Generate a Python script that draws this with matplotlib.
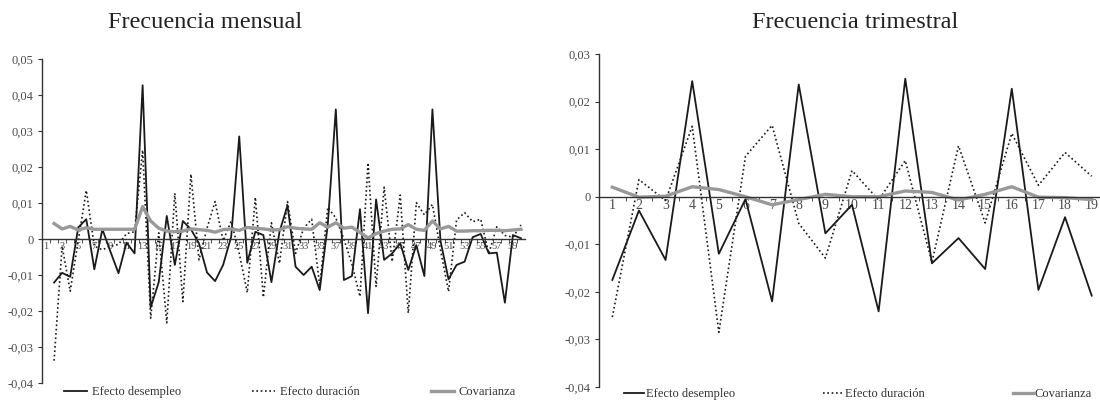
import numpy as np
import matplotlib.pyplot as plt

# Frecuencia mensual: 60 meses, las series empiezan en el mes 2
meses = list(range(1, 61))
desempleo_m = [np.nan,
    -0.0121, -0.0094, -0.0105, 0.0032, 0.0055, -0.0084, 0.0027, -0.0035, -0.0095, -0.0010,
    -0.0040, 0.0427, -0.0190, -0.0120, 0.0064, -0.0072, 0.0050, 0.0027, -0.0012, -0.0093,
    -0.0117, -0.0072, 0.0006, 0.0285, -0.0066, 0.0020, 0.0011, -0.0120, 0.0020, 0.0093,
    -0.0077, -0.0100, -0.0077, -0.0142, 0.0040, 0.0360, -0.0114, -0.0103, 0.0083, -0.0206,
    0.0110, -0.0058, -0.0040, -0.0012, -0.0086, -0.0017, -0.0103, 0.0360, -0.0005, -0.0112,
    -0.0072, -0.0063, 0.0005, 0.0014, -0.0040, -0.0038, -0.0177, 0.0011, 0.0002]
duracion_m = [np.nan,
    -0.0338, -0.0020, -0.0145, -0.0005, 0.0135, -0.0020, -0.0030, -0.0020, -0.0015, 0.0015,
    0.0020, 0.0247, -0.0220, 0.0017, -0.0233, 0.0127, -0.0174, 0.0180, -0.0058, 0.0030,
    0.0104, -0.0005, 0.0050, -0.0040, -0.0149, 0.0116, -0.0162, 0.0045, -0.0068, 0.0104,
    -0.0040, 0.0030, 0.0055, -0.0130, 0.0088, 0.0058, 0.0000, -0.0070, -0.0160, 0.0212,
    -0.0132, 0.0144, -0.0063, 0.0122, -0.0206, 0.0101, 0.0067, 0.0096, -0.0030, -0.0146,
    0.0053, 0.0073, 0.0048, 0.0055, -0.0040, 0.0034, 0.0010, 0.0005, 0.0039]
covarianza_m = [np.nan,
    0.0043, 0.0028, 0.0035, 0.0025, 0.0031, 0.0027, 0.0027, 0.0027, 0.0027, 0.0027,
    0.0027, 0.0090, 0.0050, 0.0030, 0.0022, 0.0020, 0.0022, 0.0028, 0.0026, 0.0024,
    0.0019, 0.0026, 0.0028, 0.0024, 0.0032, 0.0030, 0.0028, 0.0025, 0.0026, 0.0034,
    0.0030, 0.0028, 0.0027, 0.0045, 0.0033, 0.0045, 0.0030, 0.0033, 0.0018, 0.0003,
    0.0015, 0.0022, 0.0027, 0.0028, 0.0040, 0.0027, 0.0024, 0.0050, 0.0028, 0.0035,
    0.0022, 0.0022, 0.0023, 0.0023, 0.0024, 0.0024, 0.0023, 0.0025, 0.0027]

# Frecuencia trimestral: 19 trimestres
trimestres = list(range(1, 20))
desempleo_t = [-0.0175, -0.0029, -0.0133, 0.0243, -0.0120, -0.0005, -0.0220, 0.0236, -0.0077, -0.0017,
               -0.0241, 0.0248, -0.0140, -0.0087, -0.0152, 0.0227, -0.0196, -0.0043, -0.0208]
duracion_t = [-0.0253, 0.0036, -0.0008, 0.0148, -0.0285, 0.0085, 0.0150, -0.0056, -0.0129, 0.0055,
              -0.0007, 0.0076, -0.0138, 0.0107, -0.0055, 0.0133, 0.0024, 0.0093, 0.0043]
covarianza_t = [0.0020, -0.0001, 0.0001, 0.0021, 0.0015, 0.0000, -0.0017, -0.0006, 0.0005, 0.0000,
                0.0000, 0.0012, 0.0009, -0.0007, 0.0005, 0.0021, -0.0001, -0.0002, -0.0006]

etiquetas = ['Efecto desempleo', 'Efecto duración', 'Covarianza']
titulos = ['Frecuencia mensual', 'Frecuencia trimestral']

plt.rcParams['font.family'] = ['Liberation Serif', 'DejaVu Serif']
txt = '#4a4a4a'


def panel(ax, x, series, yticks, xlabsize, step):
    d, u, c = series
    l1, = ax.plot(x, d, color='#1a1a1a', lw=1.3)
    l2, = ax.plot(x, u, color='#1a1a1a', lw=1.2, ls=(0, (1, 1.6)))
    l3, = ax.plot(x, c, color='#999999', lw=2.4)
    ax.set_xlim(0.5, len(x) + 0.5)
    ax.set_ylim(yticks[0], yticks[-1])
    ax.spines['bottom'].set_position(('data', 0))
    ax.spines['top'].set_visible(False)
    ax.spines['right'].set_visible(False)
    for s in ('left', 'bottom'):
        ax.spines[s].set_color('#333333')
        ax.spines[s].set_linewidth(1.0)
    ax.set_yticks(yticks)
    ax.set_yticklabels(['0' if abs(v) < 1e-9 else f'{v:.2f}'.replace('.', ',') for v in yticks],
                       fontsize=9, color=txt)
    ax.set_xticks(x[::step])
    ax.set_xticklabels([str(v) for v in x[::step]], fontsize=xlabsize, color=txt)
    ax.set_xticks(np.arange(1.5, len(x), 1), minor=True)
    ax.tick_params(axis='x', which='major', length=0, pad=2)
    ax.tick_params(axis='x', which='minor', length=3, direction='out', color='#333333')
    ax.tick_params(axis='y', length=3, direction='out', color='#333333', pad=3)
    return [l1, l2, l3]


fig = plt.figure(figsize=(11, 4), dpi=100)
ax1 = fig.add_axes([42 / 1100, 17 / 400, 483 / 1100, 324 / 400])
ax2 = fig.add_axes([599 / 1100, 13 / 400, 506 / 1100, 333 / 400])

h1 = panel(ax1, meses, (desempleo_m, duracion_m, covarianza_m),
           [-0.04, -0.03, -0.02, -0.01, 0, 0.01, 0.02, 0.03, 0.04, 0.05], 7.5, 2)
h2 = panel(ax2, trimestres, (desempleo_t, duracion_t, covarianza_t),
           [-0.04, -0.03, -0.02, -0.01, 0, 0.01, 0.02, 0.03], 10, 1)

fig.text(205 / 1100, 1 - 22 / 400, titulos[0], ha='center', va='center', fontsize=17.5, color='#222222')
fig.text(855 / 1100, 1 - 22 / 400, titulos[1], ha='center', va='center', fontsize=17.5, color='#222222')

fig.legend(h1, etiquetas, ncol=3, mode='expand', frameon=False, fontsize=9,
           loc='center', bbox_to_anchor=(64 / 1100, 0.0, 452 / 1100, 0.04),
           handlelength=1.8, handletextpad=0.4, borderaxespad=0, borderpad=0,
           labelcolor='#333333')
fig.legend(h2, etiquetas, ncol=3, mode='expand', frameon=False, fontsize=9,
           loc='center', bbox_to_anchor=(624 / 1100, -0.005, 468 / 1100, 0.04),
           handlelength=1.6, handletextpad=0.15, borderaxespad=0, borderpad=0,
           labelcolor='#333333')

fig.savefig('out.png', dpi=100)
